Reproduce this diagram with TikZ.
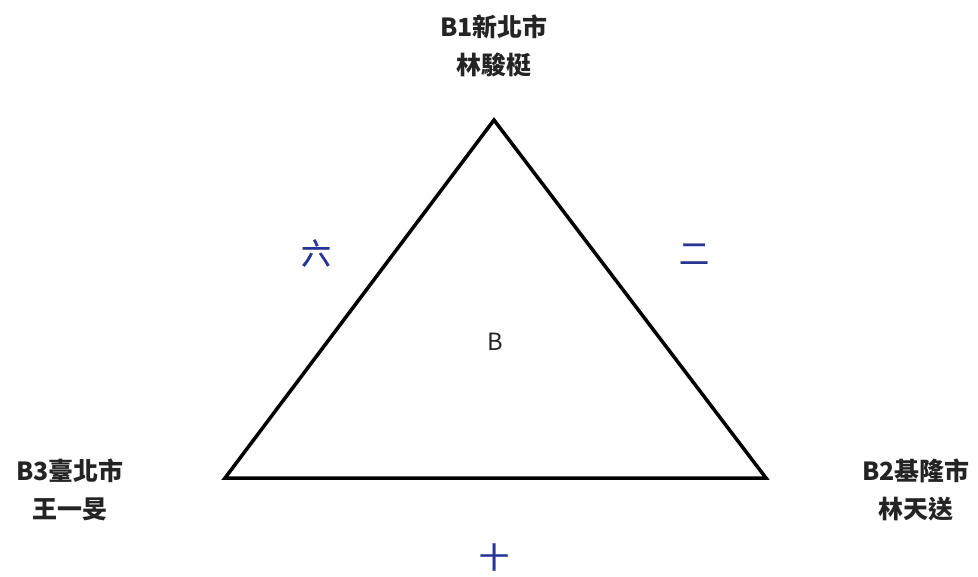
\documentclass[tikz,border=0pt]{standalone}
\usepackage{fontspec}
\usepackage{tikz}
\usetikzlibrary{positioning,calc}
\newfontfamily\cjk{Noto Sans CJK TC}
\newfontfamily\cjkside[FakeBold=0.7]{Noto Sans CJK TC}
\definecolor{edgeblue}{RGB}{40,52,148}
\definecolor{txtgray}{RGB}{36,36,36}
\tikzset{
  vlabel/.style={font=\cjk\bfseries\fontsize{14.2}{21.6}\selectfont,text=txtgray,align=center,inner sep=0pt},
  elabel/.style={font=\cjkside\fontsize{17}{20}\selectfont,text=edgeblue,inner sep=0pt},
  tri/.style={line width=2pt,line join=miter}
}
\begin{document}
\begin{tikzpicture}[x=0.02cm,y=-0.02cm]
\useasboundingbox (0,0) rectangle (978,576);
% ---------------- corners of the triangle ----------------
\coordinate (top) at (494,120);
\coordinate (left) at (225,478);
\coordinate (right) at (766,478);
\draw[tri] (top) -- (right) -- (left) -- cycle;
% ---------------- corner labels ----------------
\node[vlabel] (b1) at (494,46) {B1新北市\\林駿梃};
\node[vlabel] (b3) at (70,490) {B3臺北市\\王一旻};
\node[vlabel] (b2) at (916,490) {B2基隆市\\林天送};
% ---------------- side labels ----------------
\node[elabel] (six) at (316,253) {六};
\node[elabel] (two) at (694,254) {二};
\node[elabel] (ten) at (494,557) {十};
% centre
\node[font=\cjk\fontsize{13.5}{16}\selectfont,text=txtgray] (face) at (495,342) {B};
\end{tikzpicture}
\end{document}
